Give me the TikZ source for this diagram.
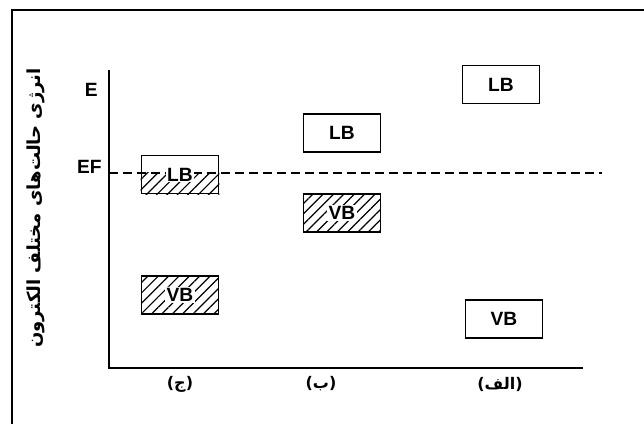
\documentclass[tikz,border=0pt]{standalone}
\usepackage{fontspec}
\setmainfont{Liberation Sans}
\newfontfamily\arabicfont[Script=Arabic]{DejaVu Sans}
\TeXXeTstate=1
\usetikzlibrary{patterns.meta, positioning}
\tikzset{
  band/.style  = {draw, line width=1.1pt, minimum width=58pt, minimum height=28.5pt, inner sep=0pt, font=\bfseries\Large},
  hatched/.style = {pattern={Lines[angle=45, distance=5.5pt, line width=0.9pt]}},
  faname/.style = {font=\arabicfont\bfseries\large},
  tag/.style = {fill=white, inner sep=1pt, font=\bfseries\Large},
}

\begin{document}
\begin{tikzpicture}[x=0.75pt, y=-0.75pt, every node/.style={text=black}]
    \useasboundingbox (0,0) rectangle (644,424);
    % frame
    \draw [line width=2.2pt] (12,424) -- (12,10) -- (644,10);

    % axes
    \coordinate (top) at (109,70);
    \coordinate (org) at (109,368);
    \coordinate (end) at (583,368);
    \draw [line width=1.1pt] (top) -- (org) -- (end);
    \node (e)  [font=\bfseries\Large, left=5pt] at (109,90)  {E};
    \node (ef) [font=\bfseries\Large, left=2pt] at (109,167) {EF};
    \coordinate (fermi) at (109,173);
    \coordinate (far) at (602,173);
    \node (ylab) [font=\arabicfont\bfseries\fontsize{13.5}{16}\selectfont, rotate=90] at (36,208) {\beginR انرژی حالت‌های مختلف الکترون\endR};

    % column c
    \node (lbc) [band] at (180,174.5) {};
    \fill [hatched] (lbc.west |- fermi) rectangle (lbc.south east);
    \draw [line width=1.1pt, dash pattern=on 7pt off 3.5pt] (fermi) -- (far);
    \node (lbct) [tag] at (lbc) {LB};
    \node (vbc) [band, hatched] at (180,295) {};
    \node (vbct) [tag] at (vbc) {VB};

    % column b
    \node (lbb) [band] at (342,133) {LB};
    \node (vbb) [band, hatched] at (342,213) {};
    \node (vbbt) [tag] at (vbb) {VB};

    % column a
    \node (lba) [band] at (501,84.5) {LB};
    \node (vba) [band] at (504,319) {VB};

    % column labels
    \node (cc) [faname] at (180,384) {\beginR(ج)\endR};
    \node (cb) [faname] at (321,384) {\beginR(ب)\endR};
    \node (ca) [faname] at (500,384) {\beginR(الف)\endR};
\end{tikzpicture}
\end{document}
